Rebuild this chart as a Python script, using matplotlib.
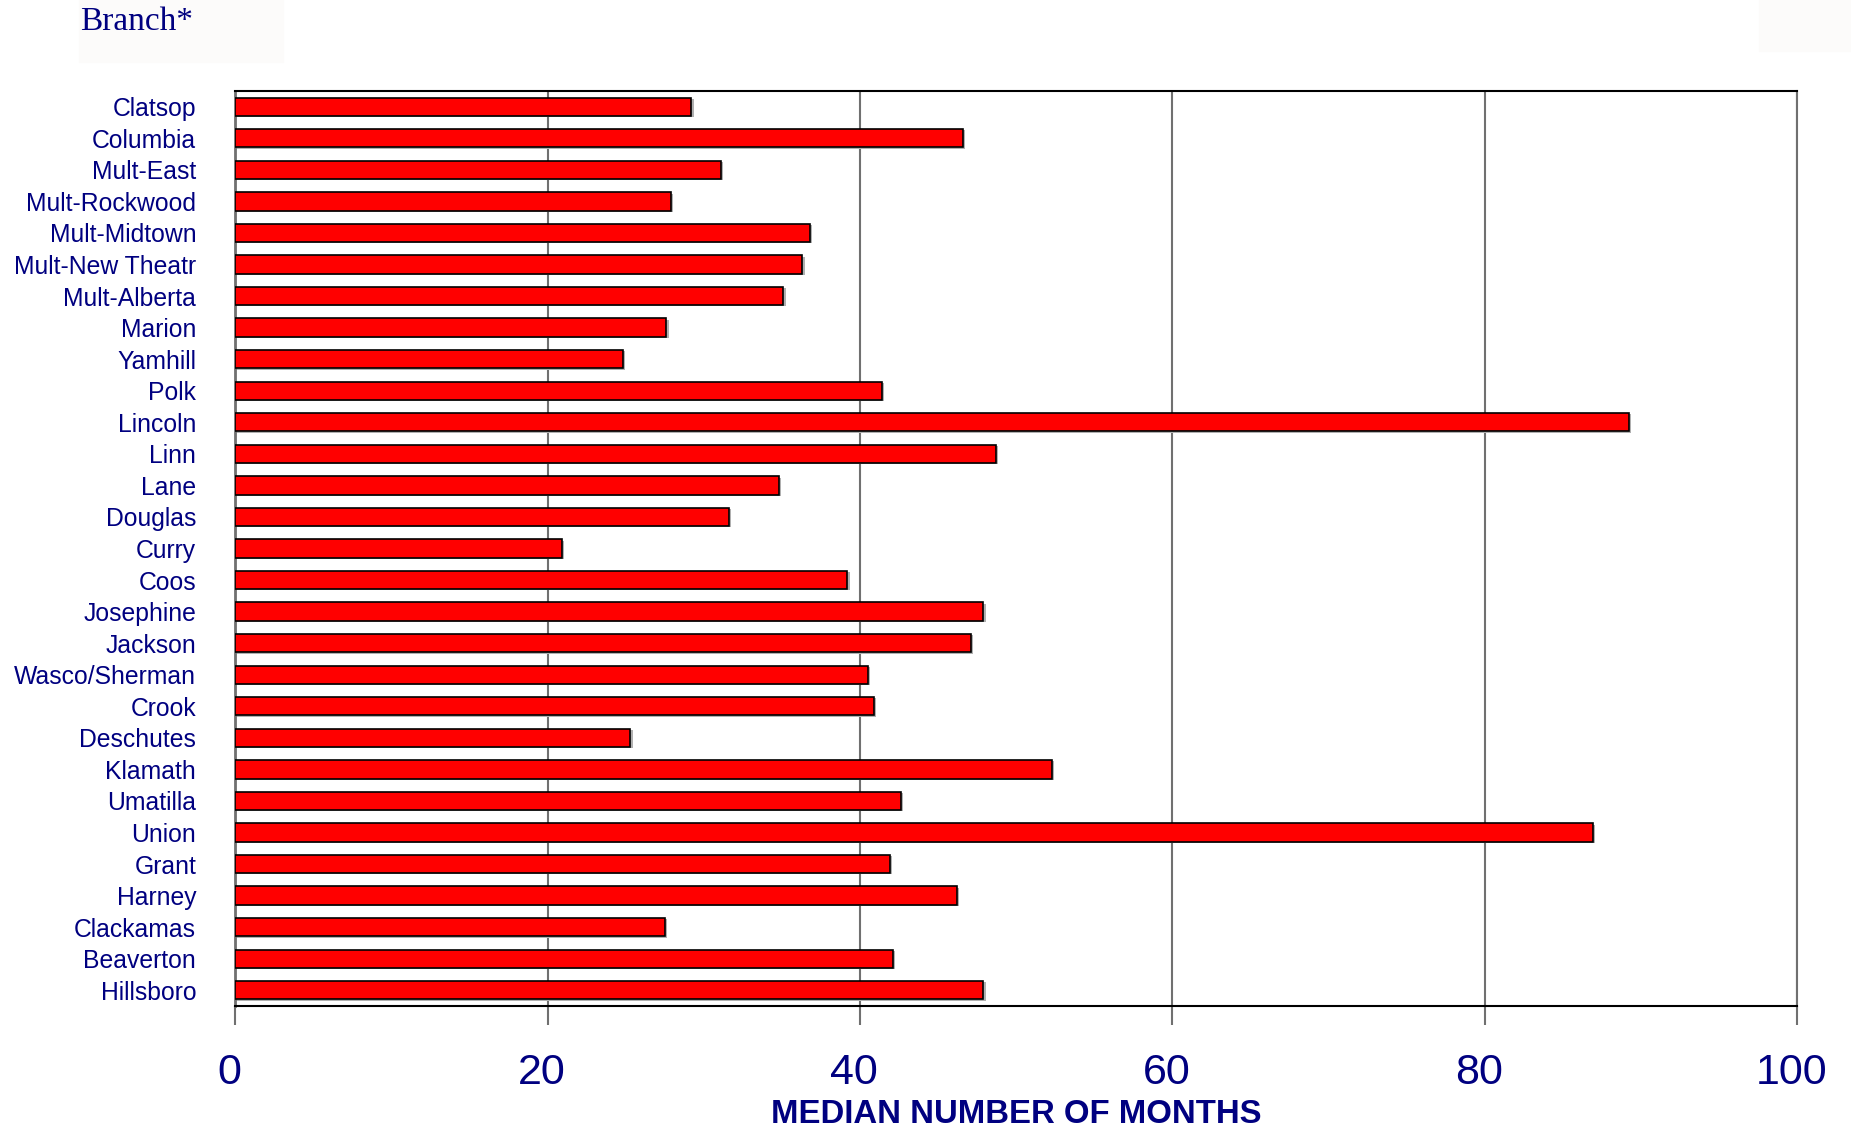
import matplotlib.pyplot as plt
import matplotlib.transforms as mtransforms
from matplotlib.patches import Rectangle

# Median months by branch (top to bottom as shown)
BRANCHES = ["Clatsop", "Columbia", "Mult-East", "Mult-Rockwood", "Mult-Midtown",
            "Mult-New Theatr", "Mult-Alberta", "Marion", "Yamhill", "Polk",
            "Lincoln", "Linn", "Lane", "Douglas", "Curry", "Coos", "Josephine",
            "Jackson", "Wasco/Sherman", "Crook", "Deschutes", "Klamath",
            "Umatilla", "Union", "Grant", "Harney", "Clackamas", "Beaverton",
            "Hillsboro"]
MONTHS = [29.2, 46.6, 31.1, 27.9, 36.8, 36.3, 35.1, 27.6, 24.8, 41.4,
          89.2, 48.7, 34.8, 31.6, 20.9, 39.2, 47.9, 47.1, 40.5, 40.9,
          25.3, 52.3, 42.6, 86.9, 41.9, 46.2, 27.5, 42.1, 47.9]
XTICKS = [0, 20, 40, 60, 80, 100]

NAVY = "#000080"
plt.rcParams['font.family'] = ['Liberation Sans', 'DejaVu Sans']

fig = plt.figure(figsize=(18.51, 11.30), dpi=100)
ax = fig.add_axes([0.127, 0.1097, 0.844, 0.8098])

pos = list(range(len(BRANCHES)))
# light shadow under bars
ax.barh([p + 0.04 for p in pos], [m + 0.15 for m in MONTHS], height=0.58,
        left=0, color="#b0b0b0", zorder=2, linewidth=0)
ax.barh(pos, MONTHS, height=0.58, color="#ff0000", edgecolor="black",
        linewidth=1.2, zorder=3)

ax.set_xlim(0, 100)
ax.set_ylim(len(BRANCHES) - 0.5, -0.5)
ax.set_yticks(pos)
ax.set_yticklabels(BRANCHES, fontsize=17.8, color=NAVY)
ax.tick_params(axis="y", length=0, pad=28)

ax.set_xticks(XTICKS)
ax.set_xticklabels([str(t) for t in XTICKS], fontsize=31, color=NAVY)
ax.tick_params(axis="x", length=14, width=1.5, color="#707070", pad=20,
               direction="out")
shift = mtransforms.ScaledTranslation(-6 / 100, 0, fig.dpi_scale_trans)
for lbl in ax.get_xticklabels():
    lbl.set_transform(lbl.get_transform() + shift)

ax.grid(axis="x", color="#707070", linewidth=1.5, zorder=1)
ax.set_axisbelow(True)

ax.spines["left"].set_color("#707070")
ax.spines["left"].set_linewidth(2)
ax.spines["right"].set_color("#707070")
ax.spines["right"].set_linewidth(1.5)
ax.spines["top"].set_color("black")
ax.spines["top"].set_linewidth(1.5)
ax.spines["bottom"].set_color("black")
ax.spines["bottom"].set_linewidth(1.5)

ax.set_xlabel("MEDIAN NUMBER OF MONTHS", fontsize=23.7, fontweight="bold",
              color=NAVY, labelpad=4)

# title box at top left and blank box top right
fig.patches.append(Rectangle((79 / 1851, 1 - 62 / 1130), 204 / 1851, 62 / 1130,
                             transform=fig.transFigure, color="#fcfbfa", zorder=0))
fig.patches.append(Rectangle((1759 / 1851, 1 - 51 / 1130), 92 / 1851, 51 / 1130,
                             transform=fig.transFigure, color="#fcfbfa", zorder=0))
fig.text(80 / 1851, 1 - 22 / 1130, "Branch*", fontsize=24, color=NAVY,
         family=["Liberation Serif", "DejaVu Serif"], va="center", ha="left")

fig.savefig("out.png", dpi=100)
